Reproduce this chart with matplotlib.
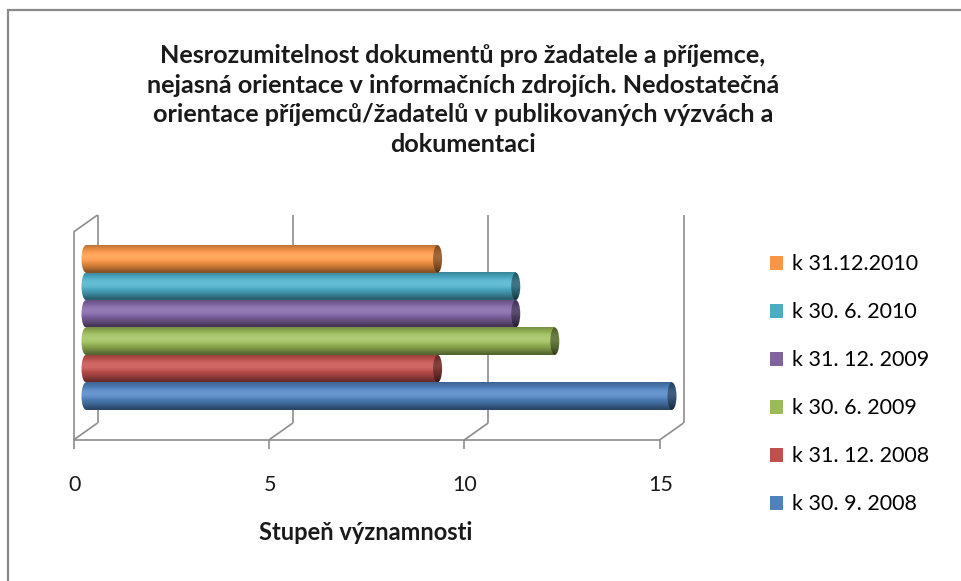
import numpy as np
import matplotlib.pyplot as plt
from matplotlib.patches import Ellipse, Patch
from matplotlib.transforms import ScaledTranslation
from matplotlib.colors import to_rgb

plt.rcParams["font.family"] = ["Lato", "DejaVu Sans"]

# Series (bottom to top) and their score
periods = ["k 30. 9. 2008", "k 31. 12. 2008", "k 30. 6. 2009",
           "k 31. 12. 2009", "k 30. 6. 2010", "k 31.12.2010"]
scores = [15, 9, 12, 11, 11, 9]
colors = ["#4F81BD", "#C0504D", "#9BBB59", "#8064A2", "#4BACC6", "#F79646"]
x_ticks = [0, 5, 10, 15]

title = ("Nesrozumitelnost dokumentů pro žadatele a příjemce,\n"
         "nejasná orientace v informačních zdrojích. Nedostatečná\n"
         "orientace příjemců/žadatelů v publikovaných výzvách a\n"
         "dokumentaci")
x_label = "Stupeň významnosti"

W, H = 962, 581
fig = plt.figure(figsize=(W / 100, H / 100), dpi=100)

# outer chart border
fig.patches.append(plt.Rectangle((8 / W, -0.1), 1.1, (H - 10) / H + 0.1,
                                 transform=fig.transFigure, fill=False,
                                 edgecolor="#8a8a8a", linewidth=1.6))

# axes = middle depth plane of the pseudo 3D box
ax = fig.add_axes([86 / W, (H - 431.5) / H, 586 / W, 208 / H])
ax.set_xlim(0, 15)
ax.set_ylim(-0.5, 0.5)
ax.axis("off")


def shifted(dx, dy):
    return ax.transData + ScaledTranslation(dx / 100, dy / 100, fig.dpi_scale_trans)


front = shifted(-12.5, -8.5)
back = shifted(11.5, 8.5)
grid_kw = dict(color="#8c8c8c", linewidth=1.2, clip_on=False, solid_capstyle="butt")

# back wall gridlines
for xv in x_ticks:
    ax.plot([xv, xv], [-0.5, 0.5], transform=back, **grid_kw)
# floor: front edge and depth lines
ax.plot([x_ticks[0], x_ticks[-1]], [-0.5, -0.5], transform=front, **grid_kw)
for xv in x_ticks:
    fx, fy = front.transform((xv, -0.5))
    bx, by = back.transform((xv, -0.5))
    ax.plot([fx, bx], [fy, by], transform=None, **grid_kw)
    ax.plot([fx, fx], [fy, fy - 9], transform=None, **grid_kw)
    ax.text(fx + 1, fy - 45, str(xv), transform=None, ha="center", va="center",
            fontsize=15.5, color="#1a1a1a")
# left wall
ax.plot([0, 0], [-0.5, 0.5], transform=front, **grid_kw)
fx, fy = front.transform((0, 0.5))
bx, by = back.transform((0, 0.5))
ax.plot([fx, bx], [fy, by], transform=None, **grid_kw)


def shade_column(base, n=80):
    t = np.linspace(0, 1, n)[:, None]
    light = np.cos((t - 0.6) * np.pi * 0.9)
    factor = 0.55 + 0.5 * np.clip(light, 0, 1)
    rgb = np.array(to_rgb(base))[None, :] * factor
    gloss = np.clip((factor - 0.95) * 1.2, 0, None)
    rgb = rgb + (1 - rgb) * gloss
    return np.clip(rgb, 0, 1)[::-1, None, :]


n = len(scores)
bar_h = 0.132
offsets = (np.arange(n) - (n - 1) / 2) * bar_h
cap_w = 9 / (586 / 15)

for yc, val, col in zip(offsets, scores, colors):
    y0, y1 = yc - bar_h / 2, yc + bar_h / 2
    img = shade_column(col)
    ax.imshow(img, extent=[0, val, y0, y1], aspect="auto", zorder=2,
              interpolation="bilinear")
    # rounded left end
    left = Ellipse((0, yc), cap_w, bar_h, transform=ax.transData)
    im = ax.imshow(img, extent=[-cap_w, cap_w, y0, y1], aspect="auto",
                   zorder=2, interpolation="bilinear")
    im.set_clip_path(left)
    im.set_clip_box(fig.bbox)
    # end face of the cylinder
    right = Ellipse((val, yc), cap_w, bar_h, transform=ax.transData)
    im = ax.imshow(img * 0.62, extent=[val - cap_w, val + cap_w, y0, y1],
                   aspect="auto", zorder=3, interpolation="bilinear")
    im.set_clip_path(right)
    im.set_clip_box(fig.bbox)

ax.set_xlim(0, 15)
ax.set_ylim(-0.5, 0.5)

fig.text(463 / W, 1 - 100 / H, title, ha="center", va="center",
         fontsize=18.2, fontweight="bold", linespacing=1.35, color="#1a1a1a")
fig.text(366 / W, 1 - 533 / H, x_label, ha="center", va="center",
         fontsize=17, fontweight="bold", color="#1a1a1a")

handles = [Patch(facecolor=c, edgecolor="none") for c in colors][::-1]
fig.legend(handles, periods[::-1], loc="upper left",
           bbox_to_anchor=(751 / W, 1 - 235 / H), frameon=False,
           fontsize=15.5, handlelength=0.6, handleheight=0.6,
           handletextpad=0.4, labelspacing=1.3)

fig.savefig("out.png", dpi=100)
